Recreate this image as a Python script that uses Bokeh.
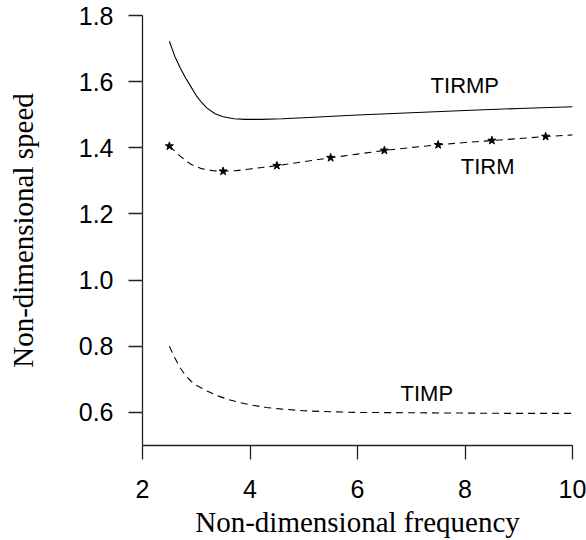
from bokeh.plotting import figure
from bokeh.models import Range1d, FixedTicker, Label
from bokeh.embed import file_html
from bokeh.resources import INLINE

# ---- data ----
x_ticks = [2, 4, 6, 8, 10]
x_tick_labels = ["2", "4", "6", "8", "10"]
y_ticks = [0.6, 0.8, 1.0, 1.2, 1.4, 1.6, 1.8]
y_tick_labels = ["0.6", "0.8", "1.0", "1.2", "1.4", "1.6", "1.8"]

tirmp_x = [2.5, 2.6, 2.7, 2.8, 2.9, 3.0, 3.1, 3.2, 3.35, 3.5, 3.7, 3.9, 4.2, 4.6, 5.0, 6.0, 7.0, 8.0, 9.0, 10.0]
tirmp_y = [1.722, 1.677, 1.642, 1.612, 1.585, 1.558, 1.537, 1.520, 1.503, 1.494, 1.488, 1.486, 1.486, 1.488, 1.491, 1.499, 1.506, 1.513, 1.519, 1.524]

tirm_x = [2.5, 2.7, 2.9, 3.1, 3.3, 3.5, 3.75, 4.0, 4.5, 5.0, 5.5, 6.0, 6.5, 7.0, 7.5, 8.0, 8.5, 9.0, 9.5, 10.0]
tirm_y = [1.405, 1.375, 1.350, 1.337, 1.331, 1.329, 1.331, 1.336, 1.346, 1.358, 1.370, 1.381, 1.392, 1.401, 1.409, 1.416, 1.422, 1.428, 1.434, 1.439]

tirm_star_x = [2.5, 3.5, 4.5, 5.5, 6.5, 7.5, 8.5, 9.5]
tirm_star_y = [1.405, 1.329, 1.346, 1.370, 1.392, 1.409, 1.422, 1.434]

timp_x = [2.5, 2.6, 2.7, 2.8, 2.9, 3.0, 3.2, 3.4, 3.6, 3.8, 4.0, 4.3, 4.6, 5.0, 5.5, 6.0, 7.0, 8.0, 9.0, 10.0]
timp_y = [0.800, 0.765, 0.735, 0.712, 0.695, 0.682, 0.665, 0.650, 0.639, 0.630, 0.623, 0.615, 0.610, 0.605, 0.602, 0.600, 0.599, 0.598, 0.597, 0.597]

series_names = ["TIRMP", "TIRM", "TIMP"]
label_x = [7.36, 7.92, 6.80]
label_y = [1.589, 1.344, 0.657]

x_title = "Non-dimensional frequency"
y_title = "Non-dimensional speed"

# ---- figure ----
p = figure(width=586, height=540, output_backend="svg", toolbar_location=None,
           x_range=Range1d(2, 10), y_range=Range1d(0.5, 1.8),
           min_border_left=142, min_border_right=14, min_border_top=15, min_border_bottom=94)
p.outline_line_color = None
p.xgrid.grid_line_color = None
p.ygrid.grid_line_color = None
p.background_fill_color = "white"
p.border_fill_color = "white"

for ax in (p.xaxis[0], p.yaxis[0]):
    ax.axis_line_color = "#222222"
    ax.axis_line_width = 1.3
    ax.major_tick_line_color = "#222222"
    ax.major_tick_line_width = 1.3
    ax.major_tick_out = 14
    ax.major_tick_in = 0
    ax.minor_tick_line_color = None
    ax.major_label_text_font = "Liberation Sans"
    ax.major_label_text_font_size = "25px"
    ax.major_label_text_color = "black"
    ax.axis_label_text_font = "Liberation Serif"
    ax.axis_label_text_font_style = "normal"
    ax.axis_label_text_font_size = "29px"
    ax.axis_label_text_color = "black"

p.xaxis.ticker = FixedTicker(ticks=x_ticks)
p.yaxis.ticker = FixedTicker(ticks=y_ticks)
p.xaxis.major_label_overrides = {t: l for t, l in zip(x_ticks, x_tick_labels)}
p.yaxis.major_label_overrides = {t: l for t, l in zip(y_ticks, y_tick_labels)}
p.xaxis.major_label_standoff = 20
p.yaxis.major_label_standoff = 15
p.xaxis.axis_label = x_title
p.yaxis.axis_label = y_title
p.xaxis.axis_label_standoff = 5
p.yaxis.axis_label_standoff = 37

p.line(tirmp_x, tirmp_y, line_color="black", line_width=1.1)
p.line(tirm_x, tirm_y, line_color="black", line_width=1.1, line_dash="7 5")
p.scatter(tirm_star_x, tirm_star_y, marker="star", size=8.5, fill_color="black", line_color="black")
p.line(timp_x, timp_y, line_color="black", line_width=1.1, line_dash="7 5")

for name, lx, ly in zip(series_names, label_x, label_y):
    p.add_layout(Label(x=lx, y=ly, text=name, text_font="Liberation Sans", text_font_size="22px",
                       text_color="black", text_align="left", text_baseline="middle"))

open("out.html", "w").write(file_html(p, INLINE))
